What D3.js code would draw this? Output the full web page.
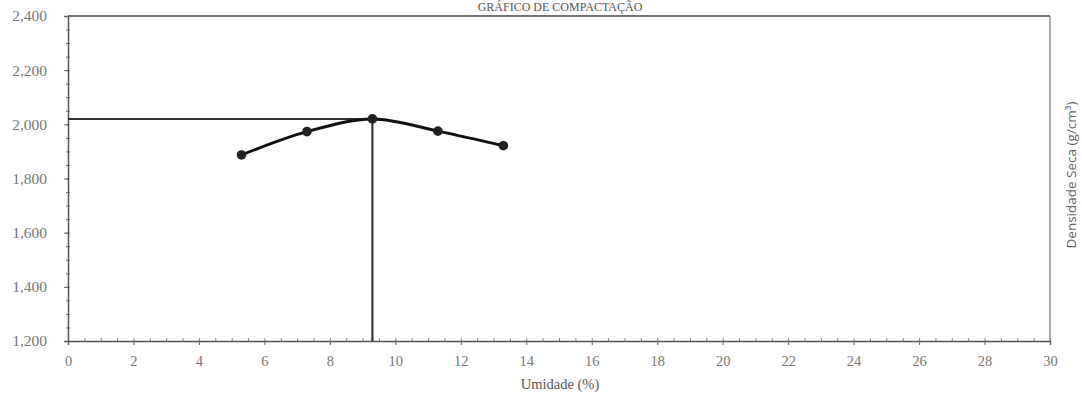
<!DOCTYPE html>
<html>
<head>
<meta charset="utf-8">
<script src="https://cdn.jsdelivr.net/npm/d3@7"></script>
<style>
  body { margin: 0; background: #fff; }
  text { font-family: "Liberation Serif", "DejaVu Serif", serif; }
</style>
</head>
<body>
<div id="chart"></div>
<script>
// umidade (%) and densidade seca (g/cm3)
const umidade = [5.3, 7.3, 9.3, 11.3, 13.3];
const densidade = [1.887, 1.973, 2.020, 1.975, 1.921];
const xTicks = [0, 2, 4, 6, 8, 10, 12, 14, 16, 18, 20, 22, 24, 26, 28, 30];
const yTicks = [1.2, 1.4, 1.6, 1.8, 2.0, 2.2, 2.4];
const umidadeOtima = 9.3;
const densidadeMax = 2.020;

const W = 1082, H = 398;
const margin = {top: 16, right: 32, bottom: 57, left: 68};
const width = W - margin.left - margin.right;
const height = H - margin.top - margin.bottom;

const svg = d3.select("#chart").append("svg")
  .attr("width", W)
  .attr("height", H);

const g = svg.append("g")
  .attr("transform", `translate(${margin.left},${margin.top})`);

const x = d3.scaleLinear().domain([0, 30]).range([0, width]);
const y = d3.scaleLinear().domain([1.2, 2.4]).range([height, 0]);

const fmt = v => d3.format(".3f")(v).replace(".", ",");

// frame (top and right)
g.append("line").attr("x1", 0).attr("x2", width).attr("y1", 0).attr("y2", 0)
  .attr("stroke", "#444").attr("stroke-width", 1.5);
g.append("line").attr("x1", width).attr("x2", width).attr("y1", 0).attr("y2", height)
  .attr("stroke", "#777").attr("stroke-width", 1.2);

// minor ticks
g.append("g")
  .attr("transform", `translate(0,${height})`)
  .call(d3.axisBottom(x).ticks(60).tickSize(3).tickFormat(""))
  .call(a => a.select(".domain").remove())
  .selectAll("line").attr("stroke", "#888").attr("y1", -3).attr("y2", 0);
g.append("g")
  .call(d3.axisLeft(y).ticks(30).tickSize(3).tickFormat(""))
  .call(a => a.select(".domain").remove())
  .selectAll("line").attr("stroke", "#777").attr("x1", 2).attr("x2", -2);

// x axis
const xAxis = g.append("g")
  .attr("transform", `translate(0,${height})`)
  .call(d3.axisBottom(x).tickValues(xTicks).tickSize(4).tickPadding(11).tickFormat(d3.format("d")));
xAxis.select(".domain").attr("stroke", "#555").attr("stroke-width", 1.5);
xAxis.selectAll("line").attr("stroke", "#666");
xAxis.selectAll("text").attr("fill", "#777").style("font-size", "14.5px");

// y axis
const yAxis = g.append("g")
  .call(d3.axisLeft(y).tickValues(yTicks).tickSize(4).tickPadding(17).tickFormat(fmt));
yAxis.select(".domain").attr("stroke", "#555").attr("stroke-width", 1.5);
yAxis.selectAll("line").attr("stroke", "#666");
yAxis.selectAll("text").attr("fill", "#777").style("font-size", "15.5px");

// reference lines at maximum
g.append("line")
  .attr("x1", x(0)).attr("x2", x(umidadeOtima))
  .attr("y1", y(densidadeMax)).attr("y2", y(densidadeMax))
  .attr("stroke", "#333").attr("stroke-width", 2);
g.append("line")
  .attr("x1", x(umidadeOtima)).attr("x2", x(umidadeOtima))
  .attr("y1", y(densidadeMax)).attr("y2", y(1.2))
  .attr("stroke", "#333").attr("stroke-width", 2.2);

// curve
const pts = umidade.map((u, i) => [u, densidade[i]]);
g.append("path")
  .datum(pts)
  .attr("fill", "none")
  .attr("stroke", "#111")
  .attr("stroke-width", 3)
  .attr("d", d3.line().x(d => x(d[0])).y(d => y(d[1])).curve(d3.curveCatmullRom.alpha(0.5)));

g.selectAll(".pt")
  .data(pts)
  .enter()
  .append("circle")
  .attr("class", "pt")
  .attr("cx", d => x(d[0]))
  .attr("cy", d => y(d[1]))
  .attr("r", 4.8)
  .attr("fill", "#222");

// titles
svg.append("text")
  .attr("x", 560).attr("y", 11)
  .attr("text-anchor", "middle")
  .attr("fill", "#555")
  .style("font-size", "12px")
  .text("GRÁFICO DE COMPACTAÇÃO");

svg.append("text")
  .attr("x", 560).attr("y", 389)
  .attr("text-anchor", "middle")
  .attr("fill", "#555")
  .style("font-size", "14.5px")
  .text("Umidade (%)");

svg.append("text")
  .attr("transform", `translate(1076,${175}) rotate(-90)`)
  .attr("text-anchor", "middle")
  .attr("fill", "#666")
  .style("font-size", "13.5px")
  .style("font-family", "'Open Sans', 'Noto Sans', sans-serif")
  .text("Densidade Seca (g/cm³)");
</script>
</body>
</html>
